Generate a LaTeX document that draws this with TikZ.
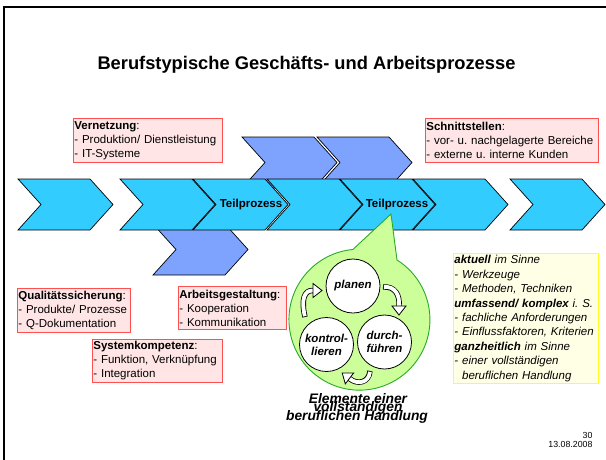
\documentclass[tikz,border=0pt]{standalone}
\usepackage{fontspec}
\setmainfont{Liberation Sans}
\frenchspacing
\definecolor{proccyan}{RGB}{51,204,255}
\definecolor{procblue}{RGB}{125,163,255}
\definecolor{noteline}{RGB}{255,80,80}
\definecolor{notefill}{RGB}{255,229,229}
\definecolor{hintline}{RGB}{255,255,40}
\definecolor{hintfill}{RGB}{255,255,229}
\definecolor{bubblefill}{RGB}{204,255,153}
\definecolor{bubbleline}{RGB}{40,170,40}

% one process chevron: left x, top y, style
\newcommand\procchevron[3]{%
  \draw[#3] (#1,#2) -- ({#1+72},#2) -- ({#1+95},{#2+25.5}) -- ({#1+72},{#2+51})
    -- (#1,{#2+51}) -- ({#1+23},{#2+25.5}) -- cycle;}

% curved block arrow: band path, then head triangle
\newcommand\bendarrow[2]{%
  \draw[line width=5.4pt, line cap=butt] #1;
  \draw[white, line width=3.8pt, line cap=butt, shorten <=0.8pt] #1;
  \draw[fill=white, line width=0.8pt, line join=miter] #2;}

\begin{document}
\begin{tikzpicture}[x=1pt, y=-1pt,
  mainchev/.style={fill=proccyan, draw=black, line width=0.7pt},
  sidechev/.style={fill=procblue, draw=black, line width=0.7pt},
  notebox/.style={draw=noteline, fill=notefill, line width=0.8pt, anchor=north west,
    inner xsep=1pt, inner ysep=1pt, align=left,
    font=\fontsize{11.5}{14}\selectfont},
  hintbox/.style={draw=hintline, fill=hintfill, line width=0.9pt, anchor=north west,
    inner xsep=1pt, inner ysep=1pt, align=left,
    font=\itshape\fontsize{11.5}{14.4}\selectfont},
  phase/.style={circle, draw=black, fill=white, line width=0.8pt, minimum size=54pt,
    inner sep=0pt, align=center, font=\bfseries\itshape\fontsize{11.5}{13}\selectfont},
  stagelabel/.style={font=\bfseries\fontsize{11.5}{14}\selectfont},
  caption/.style={anchor=base, font=\bfseries\itshape\fontsize{13.8}{14}\selectfont},
  footer/.style={anchor=base east, font=\fontsize{8.8}{10}\selectfont}]

\useasboundingbox (0,0) rectangle (606,459);
\fill[white] (0,0) rectangle (606,459);

% slide frame
\draw[line width=2pt] (4,460) -- (4,7) -- (607,7);

% title
\node[anchor=base, font=\bfseries\fontsize{18.3}{22}\selectfont] (title) at (306.5,69)
  {Berufstypische Geschäfts- und Arbeitsprozesse};

% parallel sub-processes behind the main row
\procchevron{242}{137}{sidechev}
\procchevron{317}{137}{sidechev}
\procchevron{153}{224}{sidechev}

% main process chain
\procchevron{18}{179}{mainchev}
\procchevron{120}{179}{mainchev}
\procchevron{193}{179}{mainchev}
\procchevron{267}{179}{mainchev}
\procchevron{340}{179}{mainchev}
\procchevron{413}{179}{mainchev}
\procchevron{510}{179}{mainchev}

\node[stagelabel] (tp1) at (251,204.5) {Teilprozess};

% speech bubble with the action cycle
\draw[fill=bubblefill, draw=bubbleline, line width=0.9pt, line join=miter]
  (391,214) -- (397,260) arc[start angle=-57.8, end angle=264.7, radius=70.5] -- cycle;

\node[stagelabel] (tp2) at (397,204.5) {Teilprozess};

\node[phase] (plan) at (353,286) {planen};
\node[phase] (kontr) at (326.5,344.5) {kontrol-\\lieren};
\node[phase] (durch) at (384.5,342) {durch-\\führen};

% cycle arrows between the phases
\bendarrow{(305,317) .. controls (301,300) and (304,290) .. (313,290.5)}
          {(313,283.5) -- (322,290.5) -- (313,297.5) -- cycle}
\bendarrow{(383,287) .. controls (395,286) and (400,295) .. (399,306)}
          {(392,306) -- (399,315) -- (406,306) -- cycle}
\bendarrow{(370,371) .. controls (369,383) and (357,385) .. (349.5,378.5)}
          {(353.7,372.9) -- (342.2,372.9) -- (345.3,383.9) -- cycle}

\node[caption] (cap1) at (358,403) {Elemente einer};
\node[caption] (cap2) at (358,411) {vollständigen};
\node[caption] (cap3) at (357,420) {beruflichen Handlung};

% annotation boxes
\node[notebox, text width=147pt, minimum height=44pt] (vern) at (73,118)
  {\textbf{Vernetzung}:\\- Produktion/ Dienstleistung\\- IT-Systeme};
\node[notebox, text width=171pt, minimum height=44pt] (schn) at (425,118)
  {\textbf{Schnittstellen}:\\- vor- u. nachgelagerte Bereiche\\- externe u. interne Kunden};
\node[notebox, text width=111pt, minimum height=44pt] (qual) at (17,288)
  {\textbf{Qualitätssicherung}:\\- Produkte/ Prozesse\\- Q-Dokumentation};
\node[notebox, text width=106pt, minimum height=43pt] (arbg) at (178,286)
  {\textbf{Arbeitsgestaltung}:\\- Kooperation\\- Kommunikation};
\node[notebox, text width=128pt, minimum height=43pt] (syst) at (92,339)
  {\textbf{Systemkompetenz}:\\- Funktion, Verknüpfung\\- Integration};

\node[hintbox, text width=143pt, minimum height=130pt] (hint) at (453,253)
  {\textbf{aktuell} im Sinne\\
   - Werkzeuge\\
   - Methoden, Techniken\\
   \textbf{umfassend/ komplex} i. S.\\
   - fachliche Anforderungen\\
   - Einflussfaktoren, Kriterien\\
   \textbf{ganzheitlich} im Sinne\\
   - einer vollständigen\\
   \phantom{- }beruflichen Handlung};

% page footer
\node[footer] (pgno) at (596,438) {30};
\node[footer] (pgdate) at (596,447.5) {13.08.2008};

\end{tikzpicture}
\end{document}
